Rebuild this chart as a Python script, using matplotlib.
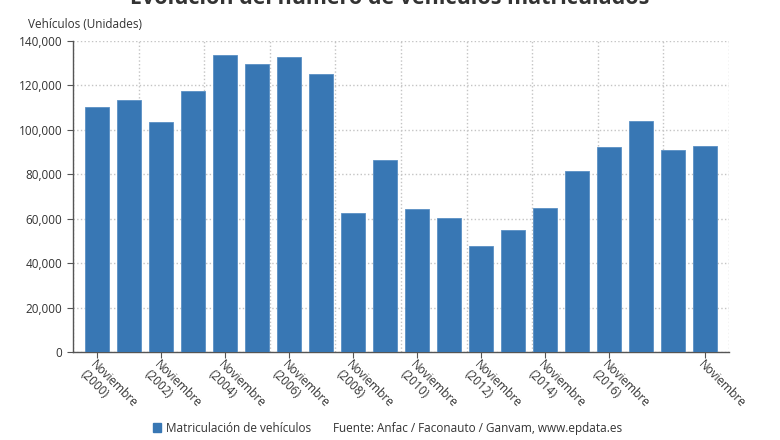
import matplotlib
matplotlib.use("Agg")
import matplotlib.pyplot as plt
from matplotlib.patches import Patch
from matplotlib.ticker import FuncFormatter, MultipleLocator
import numpy as np

plt.rcParams['font.family'] = ['Open Sans', 'DejaVu Sans']

years = list(range(2000, 2020))
values = [110500, 113500, 103600, 117300, 133500, 129800, 132900, 125100,
          62700, 86500, 64200, 60100, 47800, 55100, 65000, 81500,
          92300, 104100, 90800, 92900]
tick_idx = [0, 2, 4, 6, 8, 10, 12, 14, 16, 19]
tick_labels = ["Noviembre\n(2000)", "Noviembre\n(2002)", "Noviembre\n(2004)",
               "Noviembre\n(2006)", "Noviembre\n(2008)", "Noviembre\n(2010)",
               "Noviembre\n(2012)", "Noviembre\n(2014)", "Noviembre\n(2016)",
               "Noviembre"]
series_name = "Matriculación de vehículos"
source = "Fuente: Anfac / Faconauto / Ganvam, www.epdata.es"
title = "Evolución del número de vehículos matriculados"
ylabel = "Vehículos (Unidades)"

color = "#3877b4"
fig = plt.figure(figsize=(7.8, 4.4), dpi=100)
ax = fig.add_axes([73/780, 1-352/440, (729-73)/780, (352-41)/440])

x = np.arange(len(values))
ax.bar(x, values, width=0.78, color=color, edgecolor="#5a90c4", linewidth=0.6, zorder=3)

x0, x1 = -0.75, len(values) - 0.25
ax.set_xlim(x0, x1)
ax.set_ylim(0, 140000)
ax.yaxis.set_major_locator(MultipleLocator(20000))
ax.yaxis.set_major_formatter(FuncFormatter(lambda v, p: f"{int(v):,}"))

ax.set_xticks(tick_idx)
ax.set_xticklabels(tick_labels, rotation=-45, ha='left', va='top',
                   rotation_mode='anchor', fontsize=8.5, color="#333333",
                   linespacing=1.05)
ax.set_xticks(np.linspace(x0, x1, 11), minor=True)
ax.tick_params(axis='x', which='minor', length=0)
ax.tick_params(axis='x', which='major', length=4, color="#555555", pad=0)
ax.tick_params(axis='y', length=4, color="#555555", labelsize=8.5, labelcolor="#333333")

ax.grid(True, axis='y', which='major', linestyle=':', color="#c4c4c4", linewidth=1.0, zorder=0)
ax.grid(True, axis='x', which='minor', linestyle=':', color="#c4c4c4", linewidth=1.0, zorder=0)
ax.grid(False, axis='x', which='major')

for s in ['top', 'right']:
    ax.spines[s].set_visible(False)
ax.spines['left'].set_color("#555555")
ax.spines['bottom'].set_color("#555555")
ax.spines['left'].set_linewidth(1.0)
ax.spines['bottom'].set_linewidth(1.0)

fig.text(28/780, 1-25/440, ylabel, fontsize=8.5, color="#333333", va='center', ha='left')
fig.text(0.5, 1-4/440, title, fontsize=15.5, fontweight='bold', color="#333333",
         ha='center', va='baseline')

leg = fig.legend(handles=[Patch(facecolor=color, edgecolor=color)], labels=[series_name],
                 loc='center left', bbox_to_anchor=(142/780, 1-428/440), frameon=False,
                 fontsize=8.5, handlelength=0.7, handleheight=0.7, handletextpad=0.4,
                 labelcolor="#333333")
fig.text(333/780, 1-428/440, source, fontsize=8.5, color="#333333", va='center', ha='left')

fig.savefig("out.png", dpi=100)
